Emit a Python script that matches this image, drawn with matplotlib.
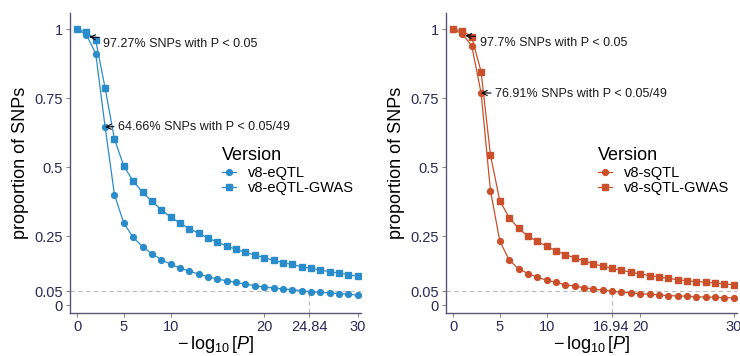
import numpy as np
import matplotlib
matplotlib.use("Agg")
import matplotlib.pyplot as plt
from matplotlib.lines import Line2D

plt.rcParams["font.family"] = ["Liberation Sans", "DejaVu Sans"]
plt.rcParams["mathtext.fontset"] = "custom"
plt.rcParams["mathtext.rm"] = "Liberation Sans"
plt.rcParams["mathtext.it"] = "Liberation Sans:italic"

# -log10(P) grid
neglog_p = list(range(0, 31))

# proportion of SNPs remaining at each threshold
eqtl = [1.0, 0.98, 0.912, 0.6466, 0.40, 0.297, 0.245, 0.212, 0.186, 0.165,
        0.148, 0.134, 0.123, 0.112, 0.103, 0.094, 0.088, 0.082, 0.076, 0.070,
        0.065, 0.062, 0.058, 0.056, 0.052, 0.048, 0.046, 0.044, 0.041, 0.039,
        0.036]
eqtl_gwas = [1.0, 0.99, 0.96, 0.787, 0.602, 0.504, 0.45, 0.409, 0.376, 0.346,
             0.319, 0.297, 0.277, 0.260, 0.243, 0.228, 0.214, 0.202, 0.191, 0.181,
             0.172, 0.162, 0.154, 0.147, 0.139, 0.133, 0.127, 0.121, 0.116, 0.110,
             0.104]
sqtl = [1.0, 0.983, 0.94, 0.7691, 0.415, 0.232, 0.163, 0.132, 0.114, 0.101,
        0.090, 0.082, 0.074, 0.068, 0.063, 0.058, 0.054, 0.050, 0.047, 0.044,
        0.041, 0.039, 0.037, 0.034, 0.033, 0.032, 0.030, 0.029, 0.028, 0.027,
        0.026]
sqtl_gwas = [1.0, 0.994, 0.973, 0.846, 0.544, 0.378, 0.317, 0.278, 0.250, 0.231,
             0.213, 0.197, 0.183, 0.171, 0.160, 0.149, 0.141, 0.133, 0.126, 0.119,
             0.113, 0.107, 0.102, 0.097, 0.092, 0.088, 0.085, 0.083, 0.079, 0.077,
             0.073]

# annotated thresholds
p_nominal = 0.05
p_bonf = 0.05 / 49
eqtl_pct = [97.27, 64.66]
sqtl_pct = [97.7, 76.91]
eqtl_cross = 24.84
sqtl_cross = 16.94

BLUE = "#2b8ccb"
RED = "#c9502b"
TICK_TEXT = "#2a2858"
AXIS_COL = "#5a5678"

fig = plt.figure(figsize=(7.4, 3.56), dpi=100)
ax_l = fig.add_axes([70 / 740, 42.7 / 356, 291 / 740, 300.3 / 356])
ax_r = fig.add_axes([446 / 740, 42.7 / 356, 291 / 740, 300.3 / 356])


def panel(ax, y1, y2, names, color, pct, cross, txt_pos):
    ax.axhline(0.05, color="#bbbbbb", lw=0.8, ls=(0, (4, 3)), zorder=1)
    ax.plot([cross, cross], [-0.03, 0.05], color="#bbbbbb", lw=0.8,
            ls=(0, (4, 3)), zorder=1)
    ax.plot(neglog_p, y1, color=color, lw=0.9, marker="o", ms=4.2, zorder=3)
    ax.plot(neglog_p, y2, color=color, lw=0.9, marker="s", ms=4.0, zorder=3)

    thr = [-np.log10(p_nominal), -np.log10(p_bonf)]
    labels = ["P < 0.05", "P < 0.05/49"]
    for t, p, lab, (tx, ty) in zip(thr, pct, labels, txt_pos):
        ax.annotate(f"{p:g}% SNPs with {lab}", xy=(t, p / 100), xytext=(tx, ty),
                    fontsize=9, color="#1a1a1a", va="center", ha="left",
                    arrowprops=dict(arrowstyle="->", color="black", lw=0.8,
                                    shrinkA=1, shrinkB=0), zorder=4)

    ax.set_xlim(-0.75, 30.35)
    ax.set_ylim(-0.03, 1.059)
    xt = sorted([0, 5, 10, 20, 30, cross])
    ax.set_xticks(xt)
    ax.set_xticklabels([f"{v:g}" for v in xt])
    ax.set_yticks([0, 0.05, 0.25, 0.5, 0.75, 1])
    ax.set_yticklabels(["0", "0.05", "0.25", "0.5", "0.75", "1"])
    ax.tick_params(colors="#888888", labelcolor=TICK_TEXT, labelsize=10.5,
                   length=3, width=0.8, pad=2)
    for s in ["top", "right"]:
        ax.spines[s].set_visible(False)
    for s in ["left", "bottom"]:
        ax.spines[s].set_color(AXIS_COL)
        ax.spines[s].set_linewidth(1.0)
    ax.set_ylabel("proportion of SNPs", fontsize=13, labelpad=4)
    ax.set_xlabel(r"$-\,\log_{10}[P]$", fontsize=13, labelpad=0)

    handles = [Line2D([], [], color=color, lw=0.9, marker="o", ms=4.2),
               Line2D([], [], color=color, lw=0.9, marker="s", ms=4.0)]
    leg = ax.legend(handles, names, title="Version", frameon=False,
                    fontsize=10.5, title_fontsize=13, handlelength=1.0,
                    handletextpad=0.8, labelspacing=0.1,
                    loc="upper left", bbox_to_anchor=(0.476, 0.597))
    leg._legend_box.align = "left"


panel(ax_l, eqtl, eqtl_gwas, ["v8-eQTL", "v8-eQTL-GWAS"], BLUE,
      eqtl_pct, eqtl_cross, [(2.8, 0.947), (4.4, 0.646)])
panel(ax_r, sqtl, sqtl_gwas, ["v8-sQTL", "v8-sQTL-GWAS"], RED,
      sqtl_pct, sqtl_cross, [(2.85, 0.949), (4.5, 0.766)])

fig.savefig("out.png", dpi=100)
